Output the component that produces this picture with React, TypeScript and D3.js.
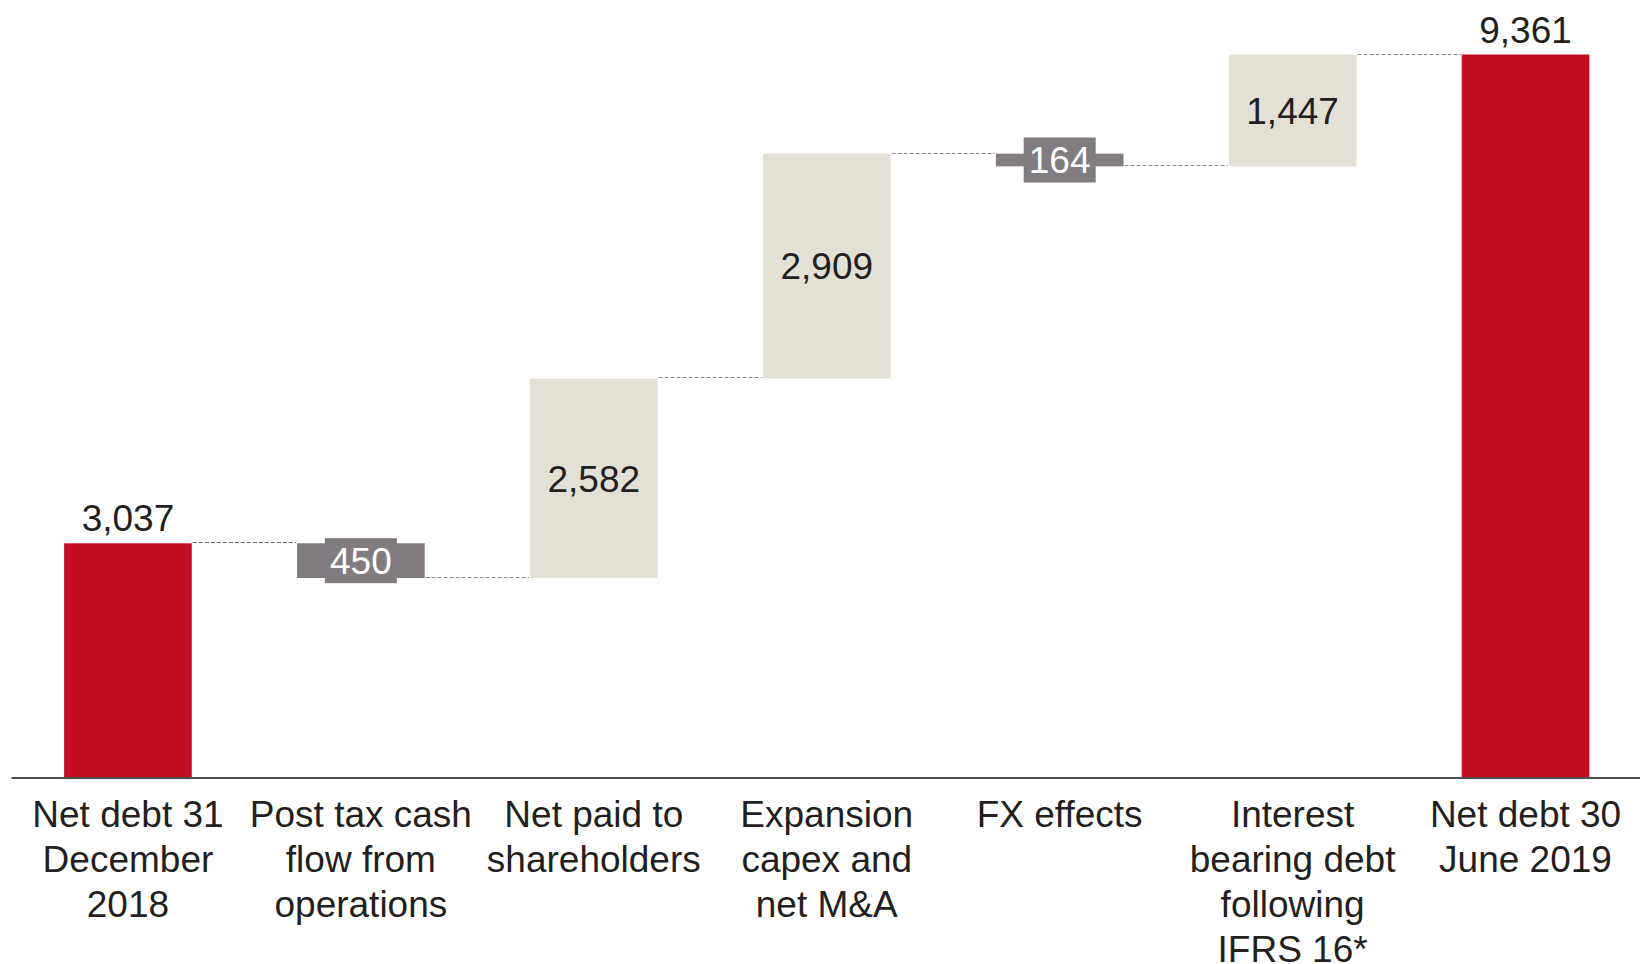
import React from 'react';
import { scaleBand, scaleLinear, format } from 'd3';

const categories = [
  ['Net debt 31', 'December', '2018'],
  ['Post tax cash', 'flow from', 'operations'],
  ['Net paid to', 'shareholders'],
  ['Expansion', 'capex and', 'net M&A'],
  ['FX effects'],
  ['Interest', 'bearing debt', 'following', 'IFRS 16*'],
  ['Net debt 30', 'June 2019'],
];
const values = [3037, -450, 2582, 2909, -164, 1447, 9361];
const kinds = ['total', 'step', 'step', 'step', 'step', 'step', 'total'];

const width = 1640;
const height = 964;
const baseY = 778;
const font = '"Liberation Sans", Arial, sans-serif';
const red = '#C10D20';
const beige = '#E3E1D5';
const grey = '#807C80';
const textColor = '#231F20';

const x = scaleBand<number>()
  .domain(values.map((_, i) => i))
  .range([11.5, 1642])
  .paddingInner(0.452)
  .paddingOuter(0.226);

const y = scaleLinear().domain([0, 9361]).range([baseY, 54.5]);
const fmt = format(',');

// running totals for waterfall
let running = 0;
const bars = values.map((v, i) => {
  let from, to;
  if (kinds[i] === 'total') {
    from = 0;
    to = v;
  } else {
    from = running;
    to = running + v;
  }
  running = to;
  return { i, v, from, to, kind: kinds[i] === 'total' ? 'total' : v < 0 ? 'down' : 'up' };
});

const App = () => {
  const bw = x.bandwidth();
  return (
    <svg width={width} height={height} style={{ position: 'absolute', left: 0, top: 0, background: '#fff' }}>
      {bars.slice(0, -1).map((b) => (
        <line
          key={'c' + b.i}
          x1={x(b.i)! + bw + 1}
          x2={x(b.i + 1)! - 1}
          y1={Math.round(y(b.to)) - 0.5}
          y2={Math.round(y(b.to)) - 0.5}
          stroke={b.i === 0 ? '#666' : '#8a8a8a'}
          strokeWidth={1}
          strokeDasharray="4,2"
        />
      ))}
      {bars.map((b) => {
        const x0 = x(b.i)!;
        const top = y(Math.max(b.from, b.to));
        const bot = y(Math.min(b.from, b.to));
        const cx = x0 + bw / 2;
        const cy = (top + bot) / 2;
        if (b.kind === 'total') {
          return (
            <g key={b.i}>
              <rect x={x0} y={top} width={bw} height={bot - top} fill={red} />
              <text x={cx} y={top - 12} textAnchor="middle" fontFamily={font} fontSize={37} fill={textColor}>
                {fmt(b.v)}
              </text>
            </g>
          );
        }
        if (b.kind === 'up') {
          return (
            <g key={b.i}>
              <rect x={x0} y={top} width={bw} height={bot - top} fill={beige} />
              <text x={cx} y={cy} dy="0.36em" textAnchor="middle" fontFamily={font} fontSize={37} fill={textColor}>
                {fmt(b.v)}
              </text>
            </g>
          );
        }
        return (
          <g key={b.i}>
            <rect x={x0} y={top} width={bw} height={bot - top} fill={grey} />
            <rect x={cx - 36} y={cy - 22.5} width={72} height={45} fill={grey} />
            <text x={cx} y={cy} dy="0.36em" textAnchor="middle" fontFamily={font} fontSize={37} fill="#fff">
              {fmt(Math.abs(b.v))}
            </text>
          </g>
        );
      })}
      <line x1={11.5} x2={width} y1={baseY} y2={baseY} stroke="#4d4d4d" strokeWidth={2} />
      {categories.map((lines, i) => (
        <text key={'l' + i} textAnchor="middle" fontFamily={font} fontSize={37} fill={textColor}>
          {lines.map((t, j) => (
            <tspan key={j} x={x(i)! + bw / 2} y={827 + j * 45}>
              {t}
            </tspan>
          ))}
        </text>
      ))}
    </svg>
  );
};

export default App;
